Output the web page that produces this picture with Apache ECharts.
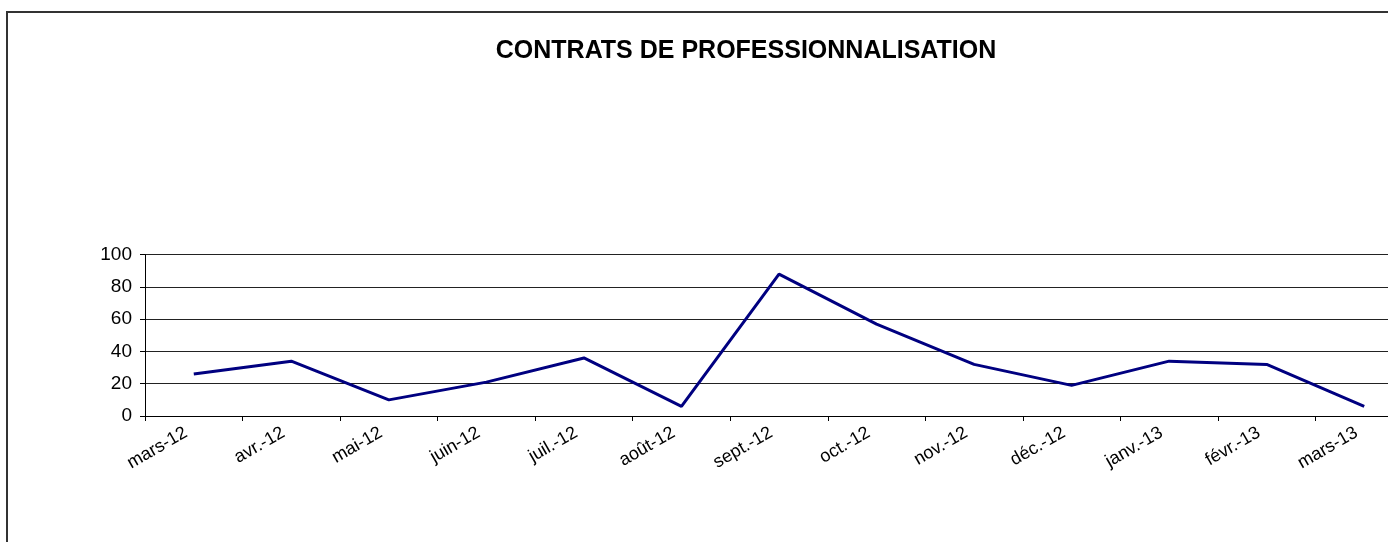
<!DOCTYPE html>
<html>
<head>
<meta charset="utf-8">
<script src="https://cdn.jsdelivr.net/npm/echarts@6/dist/echarts.min.js"></script>
<style>
html,body{margin:0;padding:0;background:#fff;overflow:hidden;width:1388px;height:542px;}
#chart{width:1430px;height:542px;}
</style>
</head>
<body>
<div id="chart"></div>
<script>
const titleText = 'CONTRATS DE PROFESSIONNALISATION';
const categories = ['mars-12','avr.-12','mai-12','juin-12','juil.-12','août-12','sept.-12','oct.-12','nov.-12','déc.-12','janv.-13','févr.-13','mars-13'];
const values = [26, 34, 10, 21, 36, 6, 88, 57, 32, 19, 34, 32, 6];
const yTicks = [0, 20, 40, 60, 80, 100];

const chart = echarts.init(document.getElementById('chart'));
chart.setOption({
  animation: false,
  backgroundColor: '#fff',
  title: {
    text: titleText,
    left: 741,
    top: 34,
    textAlign: 'center',
    textStyle: {fontFamily: 'Liberation Sans, Arial', fontWeight: 'bold', fontSize: 25, color: '#000'}
  },
  graphic: [{
    type: 'rect',
    shape: {x: 7, y: 12, width: 1600, height: 700},
    style: {fill: 'none', stroke: '#333', lineWidth: 2},
    silent: true
  }],
  grid: {left: 145, top: 254.7, height: 161.3, width: 1268, containLabel: false},
  xAxis: {
    type: 'category',
    data: categories,
    boundaryGap: true,
    axisLine: {show: true, lineStyle: {color: '#000', width: 1}},
    axisTick: {show: true, length: 5, lineStyle: {color: '#000'}},
    axisLabel: {rotate: 30, margin: 11, interval: 0, padding: [0, 9, 0, 0], fontFamily: 'Liberation Sans, Arial', fontSize: 18, color: '#000'}
  },
  yAxis: {
    type: 'value',
    min: yTicks[0],
    max: yTicks[yTicks.length - 1],
    interval: 20,
    axisLine: {show: true, lineStyle: {color: '#000', width: 1}},
    axisTick: {show: true, length: 5, lineStyle: {color: '#000'}},
    axisLabel: {margin: 13, fontFamily: 'Liberation Sans, Arial', fontSize: 19, color: '#000'},
    splitLine: {show: true, lineStyle: {color: '#222', width: 1}}
  },
  series: [{
    type: 'line',
    data: values,
    symbol: 'none',
    lineStyle: {color: '#000080', width: 3},
    itemStyle: {color: '#000080'}
  }]
});
</script>
</body>
</html>
